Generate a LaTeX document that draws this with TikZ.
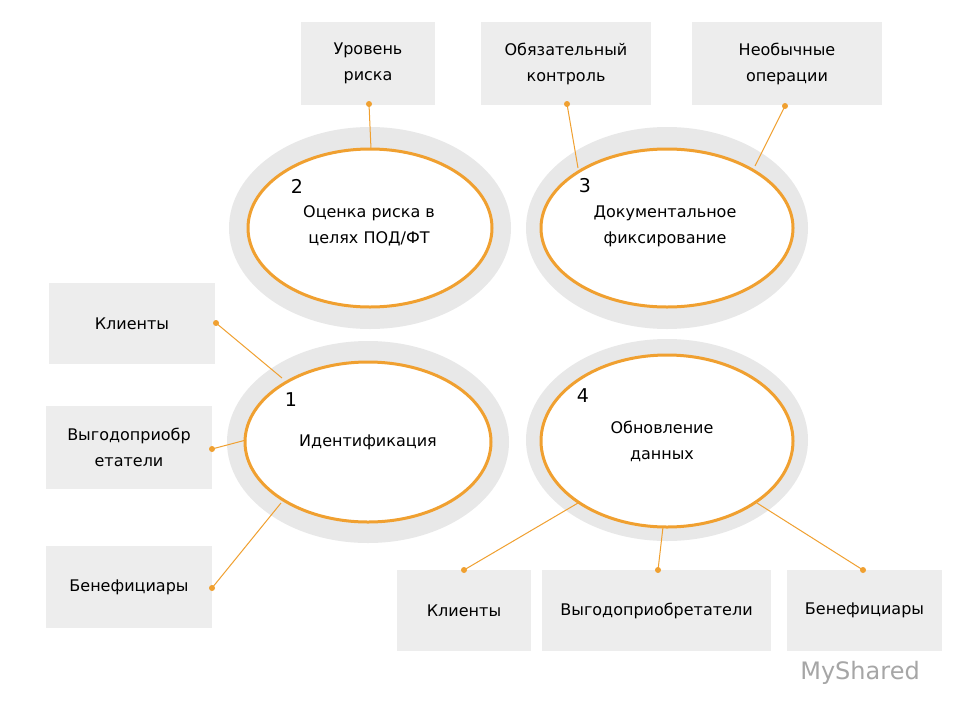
\documentclass[tikz,border=0pt]{standalone}
\usepackage{fontspec}
\setmainfont{DejaVu Sans}
\usetikzlibrary{shapes.geometric}
\definecolor{org}{HTML}{F0A030}
\definecolor{ring}{HTML}{E8E8E8}
\definecolor{boxg}{HTML}{EDEDED}
\begin{document}
\begin{tikzpicture}[x=1pt,y=-1pt,
  box/.style={fill=boxg,draw=none,inner sep=0pt,align=center,font=\fontsize{16}{26}\selectfont},
  lbl/.style={align=center,font=\fontsize{16}{26}\selectfont},
  num/.style={font=\fontsize{19}{22}\selectfont},
  con/.style={draw=org,line width=1pt},
  dot/.style={circle,fill=org,inner sep=0pt,minimum size=6pt}]
\useasboundingbox[fill=white] (0,0) rectangle (960,720);
\foreach \cx/\cy in {370/228,667/228,368/442,667/440}{
  \fill[ring] (\cx,\cy) ellipse [x radius=141,y radius=101];
}
\draw[org,line width=3pt,fill=white] (370,228) ellipse [x radius=122,y radius=79];
\draw[org,line width=3pt,fill=white] (667,228) ellipse [x radius=126,y radius=79];
\draw[org,line width=3pt,fill=white] (368,442) ellipse [x radius=123,y radius=80];
\draw[org,line width=3pt,fill=white] (667,441) ellipse [x radius=126,y radius=86];
\node[num] (n2) at (297,186) {2};
\node[lbl] (t2) at (369,226) {Оценка риска в\\целях ПОД/ФТ};
\node[num] (n3) at (585,186) {3};
\node[lbl] (t3) at (665,226) {Документальное\\фиксирование};
\node[num] (n1) at (291,400) {1};
\node[lbl] (t1) at (368,442) {Идентификация};
\node[num] (n4) at (583,396) {4};
\node[lbl] (t4) at (662,441) {Обновление\\данных};
\node[box,minimum width=134pt,minimum height=83pt] (b1) at (368,63.5) {Уровень\\риска};
\node[box,minimum width=170pt,minimum height=83pt] (b2) at (566,63.5) {Обязательный\\контроль};
\node[box,minimum width=190pt,minimum height=83pt] (b3) at (787,63.5) {Необычные\\операции};
\node[box,minimum width=166pt,minimum height=81pt] (l1) at (132,323.5) {Клиенты};
\node[box,minimum width=166pt,minimum height=83pt] (l2) at (129,447.5) {Выгодоприобр\\етатели};
\node[box,minimum width=166pt,minimum height=82pt] (l3) at (129,587) {Бенефициары};
\node[box,minimum width=134pt,minimum height=81pt] (r1) at (464,610.5) {Клиенты};
\node[box,minimum width=229pt,minimum height=81pt] (r2) at (656.5,610.5) {Выгодоприобретатели};
\node[box,minimum width=155pt,minimum height=81pt] (r3) at (864.5,610.5) {Бенефициары};
\coordinate (e1) at (371,149);
\coordinate (e2) at (578,168);
\coordinate (e3) at (755,166);
\coordinate (e4) at (282,378);
\coordinate (e5) at (246,440);
\coordinate (e6) at (281,503);
\coordinate (e7) at (578,503);
\coordinate (e8) at (663,527);
\coordinate (e9) at (757,503);
\node[dot] (d1) at (369,104) {};
\node[dot] (d2) at (567,104) {};
\node[dot] (d3) at (785,106) {};
\node[dot] (d4) at (216,323) {};
\node[dot] (d5) at (212,449) {};
\node[dot] (d6) at (212,588) {};
\node[dot] (d7) at (464,570) {};
\node[dot] (d8) at (658,570) {};
\node[dot] (d9) at (863,570) {};
\foreach \i in {1,...,9}{\draw[con] (d\i.center) -- (e\i);}
\node[text=gray!70,font=\fontsize{24}{26}\selectfont] (wm) at (860,673) {MyShared};
\end{tikzpicture}
\end{document}
